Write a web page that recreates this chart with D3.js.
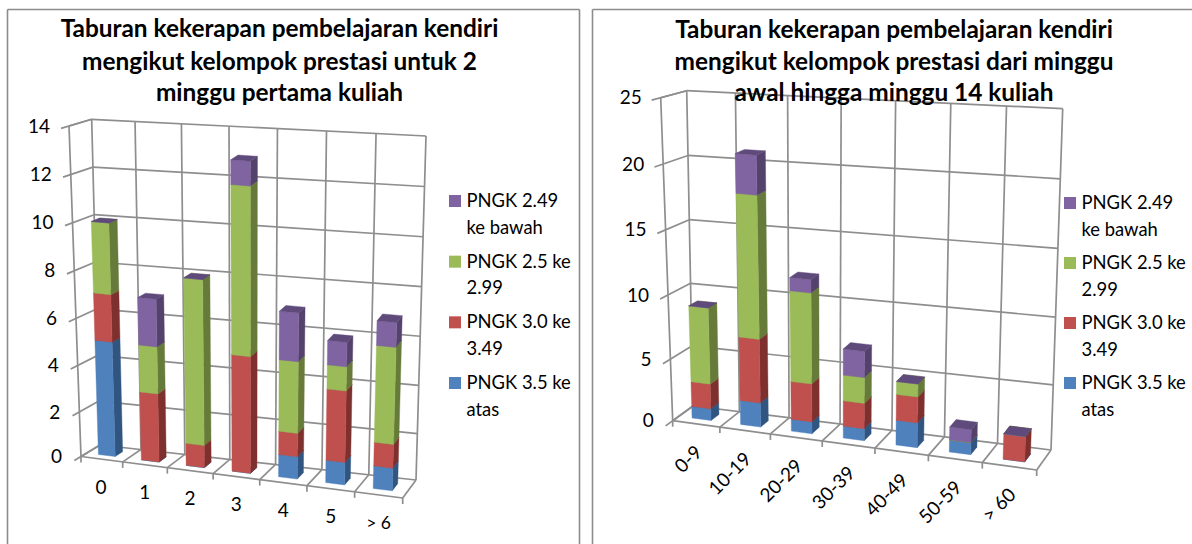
<!DOCTYPE html>
<html>

<head>
    <meta charset="utf-8">
    <script src="https://d3js.org/d3.v7.min.js"></script>
    <title>Taburan kekerapan</title>
    <style>
body{
    margin: 0;
    background: #fff;
}
svg{
    display: block;
}
text{
    font-family: Lato, "Open Sans", sans-serif;
    fill: #000;
}
.title{
    font-size: 24.4px;
    font-weight: 700;
    text-anchor: middle;
}
.tick{
    font-size: 19px;
}
.legend{
    font-size: 18.4px;
}
line.grid{
    stroke: #8e8e8e;
    stroke-width: 1.7;
}
</style>
</head>

<body>
    <svg class="svg1"></svg>
    <script>
        // data
        const seriesKeys = ['PNGK 3.5 ke atas', 'PNGK 3.0 ke 3.49', 'PNGK 2.5 ke 2.99', 'PNGK 2.49 ke bawah']
        const legendLines = [['PNGK 2.49', 'ke bawah'], ['PNGK 2.5 ke', '2.99'], ['PNGK 3.0 ke', '3.49'], ['PNGK 3.5 ke', 'atas']]
        const frontColors = ['#4f81bd', '#c0504d', '#9bbb59', '#8064a2']
        const sideColors = ['#2f5580', '#7e302e', '#667b3a', '#54416c']
        const topColors = ['#3d6898', '#9a3c3a', '#7c9647', '#5f4a7c']

        const weekCats = ['0', '1', '2', '3', '4', '5', '> 6']
        const weekTicks = [0, 2, 4, 6, 8, 10, 12, 14]
        const weekBlue = [5, 0, 0, 0, 1, 1, 1]
        const weekRed = [2, 3, 1, 5, 1, 3, 1]
        const weekGreen = [3, 2, 7, 7, 3, 1, 4]
        const weekPurple = [0, 2, 0, 1, 2, 1, 1]
        const weekTitle = ['Taburan kekerapan pembelajaran kendiri', 'mengikut kelompok prestasi untuk 2', 'minggu pertama kuliah']

        const rangeCats = ['0-9', '10-19', '20-29', '30-39', '40-49', '50-59', '> 60']
        const rangeTicks = [0, 5, 10, 15, 20, 25]
        const rangeBlue = [1, 2, 1, 1, 2, 1, 0]
        const rangeRed = [2, 5, 3, 2, 2, 0, 2]
        const rangeGreen = [6, 11, 7, 2, 1, 0, 0]
        const rangePurple = [0, 3, 1, 2, 0, 1, 0]
        const rangeTitle = ['Taburan kekerapan pembelajaran kendiri', 'mengikut kelompok prestasi dari minggu', 'awal hingga minggu 14 kuliah']

        const w = 1192
        const h = 544
        const svg = d3.select('.svg1').attr('width', w).attr('height', h)

        // panel frames
        const frame = [[7.5, 544, 7.5, 9.5], [7.5, 9.5, 579.5, 9.5], [579.5, 9.5, 579.5, 544],
            [592.5, 544, 592.5, 9.5], [592.5, 9.5, 1192, 9.5]]
        svg.append('g').selectAll('line').data(frame).enter().append('line')
            .attr('x1', d => d[0]).attr('y1', d => d[1])
            .attr('x2', d => d[2]).attr('y2', d => d[3])
            .style('stroke', '#8c8c8c').style('stroke-width', 1.6)

        drawPanel({
            cats: weekCats, ticks: weekTicks,
            values: [weekBlue, weekRed, weekGreen, weekPurple],
            title: weekTitle, titleX: 279.5, titleY: [37, 70, 101],
            // box corners on screen: f = front, b = back, l/r, t = top, d = down
            fld: [81, 456.5], brd: [416, 480], frd: [402.7, 498], bld: [100, 445],
            flt: [69, 126], blt: [91.7, 119.3], brt: [426, 136],
            legendX: 449, legendY: [195, 377],
            rotate: false
        })

        drawPanel({
            cats: rangeCats, ticks: rangeTicks,
            values: [rangeBlue, rangeRed, rangeGreen, rangePurple],
            title: rangeTitle, titleX: 894, titleY: [38, 70, 101],
            fld: [672.7, 420.7], brd: [1051, 450], frd: [1036.7, 470], bld: [693, 406],
            flt: [660.7, 97.7], blt: [686.7, 90.7], brt: [1062.7, 108.7],
            legendX: 1064, legendY: [197, 377],
            rotate: true
        })

        function drawPanel(p){
            const g = svg.append('g')
            const n = p.cats.length
            const yMax = d3.max(p.ticks)

            // perspective makes far cells a bit wider, a power scale is close enough
            const xScale = d3.scalePow().exponent(1.05).domain([0, n]).range([0, 1])
            const yScale = d3.scalePow().exponent(1.03).domain([0, yMax]).range([0, 1])
            const zScale = d3.scaleLinear().domain([0, 1]).range([0, 1])

            const frt = [p.brt[0] + p.frd[0] - p.brd[0], p.brt[1] + p.frd[1] - p.brd[1]]

            function project(c, v, z){
                let a = xScale(c)
                let b = yScale(v)
                let d = zScale(z)
                let out = [0, 1].map(i => {
                    let fd = p.fld[i] + (p.frd[i] - p.fld[i]) * a
                    let bd = p.bld[i] + (p.brd[i] - p.bld[i]) * a
                    let ft = p.flt[i] + (frt[i] - p.flt[i]) * a
                    let bt = p.blt[i] + (p.brt[i] - p.blt[i]) * a
                    let down = fd + (bd - fd) * d
                    let up = ft + (bt - ft) * d
                    return down + (up - down) * b
                })
                return out
            }

            function seg(a, b){
                g.append('line').classed('grid', true)
                    .attr('x1', a[0]).attr('y1', a[1])
                    .attr('x2', b[0]).attr('y2', b[1])
            }

            // walls and floor
            p.ticks.forEach(t => {
                seg(project(0, t, -0.35), project(0, t, 1))
                seg(project(0, t, 1), project(n, t, 1))
            })
            seg(project(0, 0, 0), project(0, yMax, 0))
            d3.range(n + 1).forEach(c => {
                seg(project(c, 0, 1), project(c, yMax, 1))
                seg(project(c, 0, 0), project(c, 0, 1))
                let f = project(c, 0, 0)
                seg(f, [f[0], f[1] + 6])
            })
            seg(project(0, yMax, 0), project(0, yMax, 1))
            seg(project(0, 0, 0), project(n, 0, 0))

            // y labels
            g.selectAll('text.ylab').data(p.ticks).enter().append('text')
                .attr('class', 'tick ylab')
                .attr('x', d => project(0, d, 0)[0] - 19)
                .attr('y', d => project(0, d, 0)[1])
                .attr('dy', '.35em')
                .style('text-anchor', 'end')
                .text(d => d)

            // category labels
            g.selectAll('text.xlab').data(p.cats).enter().append('text')
                .attr('class', 'tick xlab')
                .attr('transform', (d, i) => {
                    let m = project(i + 0.5, 0, 0)
                    if(p.rotate) return 'translate(' + (m[0] + 3) + ',' + (m[1] + 25) + ') rotate(-45)'
                    return 'translate(' + m[0] + ',' + (m[1] + 28) + ')'
                })
                .attr('dy', '.35em')
                .style('text-anchor', p.rotate ? 'end' : 'middle')
                .style('font-size', d => d === '> 6' ? '17.5px' : null)
                .text(d => d)

            // stacked boxes
            let table = p.cats.map((c, i) => {
                let row = {cat: c}
                seriesKeys.forEach((k, s) => { row[k] = p.values[s][i] })
                return row
            })
            let stacked = d3.stack().keys(seriesKeys)(table)
            let line = d3.line()
            let gap = 0.3
            let zFront = 0.3
            let zBack = 0.7

            d3.range(n).forEach(i => {
                stacked.forEach((ser, s) => {
                    let v0 = ser[i][0]
                    let v1 = ser[i][1]
                    let l = i + gap
                    let r = i + 1 - gap
                    let faces = [
                        {fill: sideColors[s], pts: [[r, v0, zFront], [r, v0, zBack], [r, v1, zBack], [r, v1, zFront]]},
                        {fill: frontColors[s], pts: [[l, v0, zFront], [r, v0, zFront], [r, v1, zFront], [l, v1, zFront]]},
                        {fill: topColors[s], pts: [[l, v1, zFront], [r, v1, zFront], [r, v1, zBack], [l, v1, zBack]]}
                    ]
                    faces.forEach(f => {
                        g.append('path')
                            .attr('d', line(f.pts.map(q => project(q[0], q[1], q[2]))) + 'Z')
                            .style('fill', f.fill)
                            .style('stroke', f.fill)
                            .style('stroke-width', 0.4)
                    })
                })
            })

            // title goes over the grid
            g.selectAll('text.title').data(p.title).enter().append('text')
                .attr('class', 'title')
                .attr('x', p.titleX)
                .attr('y', (d, i) => p.titleY[i])
                .text(d => d)

            // legend, top entry is the last series
            let rowScale = d3.scalePoint().domain(legendLines.map(d => d[0])).range(p.legendY)
            let item = g.selectAll('g.item').data(legendLines).enter().append('g')
                .attr('class', 'item')
                .attr('transform', d => 'translate(' + p.legendX + ',' + rowScale(d[0]) + ')')
            item.append('rect')
                .attr('width', 12).attr('height', 12)
                .style('fill', (d, i) => frontColors[3 - i])
            item.selectAll('text').data(d => d).enter().append('text')
                .attr('class', 'legend')
                .attr('x', 17.5)
                .attr('y', (d, i) => 12 + i * 26.5)
                .text(d => d)
        }
    </script>
</body>

</html>
